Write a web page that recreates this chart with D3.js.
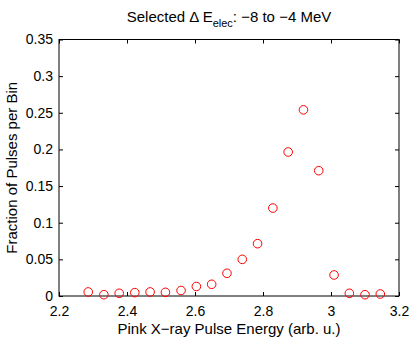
<!DOCTYPE html>
<html>

<head>
    <meta charset="utf-8">
    <title>pulse fraction</title>
    <script src="https://d3js.org/d3.v7.min.js"></script>
    <style>
        body { margin: 0; background: #fff; }
        text { font-family: "Liberation Sans", Arial, sans-serif; fill: #000; }
        .axis path, .axis line { stroke: #000; }
        circle.pt { fill: none; stroke: #ff0000; stroke-width: 1px; }
    </style>
</head>

<body>
    <script>
        // pulse energy bins and fraction of pulses in each
        let energy = [2.286, 2.332, 2.377, 2.423, 2.468, 2.513, 2.559, 2.604, 2.649, 2.694,
            2.739, 2.784, 2.829, 2.874, 2.919, 2.964, 3.009, 3.054, 3.100, 3.145];
        let fraction = [0.0055, 0.0018, 0.0037, 0.0046, 0.0055, 0.005, 0.0075, 0.013, 0.016, 0.031,
            0.050, 0.0714, 0.120, 0.1965, 0.254, 0.171, 0.0287, 0.0037, 0.0018, 0.0027];
        let xTicks = [2.2, 2.4, 2.6, 2.8, 3, 3.2];
        let yTicks = [0, 0.05, 0.1, 0.15, 0.2, 0.25, 0.3, 0.35];

        let width = 415;
        let height = 337;
        let pLeft = 59, pRight = 399, pTop = 39.5, pBottom = 296;

        let svg = d3.select('body').append('svg')
            .attr('width', width)
            .attr('height', height);

        let x_scale = d3.scaleLinear().domain([2.2, 3.2]).range([pLeft, pRight]);
        let y_scale = d3.scaleLinear().domain([0, 0.35]).range([pBottom, pTop]);

        // box axes with inward ticks, like matlab
        let tk = 4;
        svg.append('g').attr('class', 'axis')
            .attr('transform', 'translate(0,' + pBottom + ')')
            .call(d3.axisBottom(x_scale).tickValues(xTicks).tickSize(-tk).tickPadding(10)
                .tickFormat(d3.format('~g')));
        svg.append('g').attr('class', 'axis')
            .attr('transform', 'translate(0,' + pTop + ')')
            .call(d3.axisTop(x_scale).tickValues(xTicks).tickSize(-tk).tickFormat(''));
        svg.append('g').attr('class', 'axis')
            .attr('transform', 'translate(' + pLeft + ',0)')
            .call(d3.axisLeft(y_scale).tickValues(yTicks).tickSize(-tk).tickPadding(6)
                .tickFormat(d3.format('~g')));
        svg.append('g').attr('class', 'axis')
            .attr('transform', 'translate(' + pRight + ',0)')
            .call(d3.axisRight(y_scale).tickValues(yTicks).tickSize(-tk).tickFormat(''));
        svg.selectAll('.axis path').remove();
        svg.selectAll('.axis').attr('font-family', null).attr('font-size', 14);
        svg.append('rect')
            .attr('x', pLeft).attr('y', pTop)
            .attr('width', pRight - pLeft).attr('height', pBottom - pTop)
            .attr('fill', 'none').attr('stroke', '#000');

        svg.selectAll('circle.pt')
            .data(energy)
            .join('circle')
            .attr('class', 'pt')
            .attr('cx', d => x_scale(d))
            .attr('cy', (d, i) => y_scale(fraction[i]))
            .attr('r', 4.3);

        // labels
        svg.append('text')
            .attr('x', (pLeft + pRight) / 2).attr('y', 334)
            .attr('text-anchor', 'middle').attr('font-size', 15)
            .text('Pink X\u2212ray Pulse Energy (arb. u.)');

        svg.append('text')
            .attr('transform', 'translate(16.5,' + (pTop + pBottom) / 2 + ') rotate(-90)')
            .attr('text-anchor', 'middle').attr('font-size', 15)
            .text('Fraction of Pulses per Bin');

        let title = svg.append('text')
            .attr('x', (pLeft + pRight) / 2).attr('y', 22)
            .attr('text-anchor', 'middle').attr('font-size', 15);
        title.append('tspan').text('Selected \u0394 E');
        title.append('tspan').attr('dy', 5).attr('font-size', 11).text('elec');
        title.append('tspan').attr('dy', -5).text(': \u22128 to \u22124 MeV');
    </script>
</body>

</html>
